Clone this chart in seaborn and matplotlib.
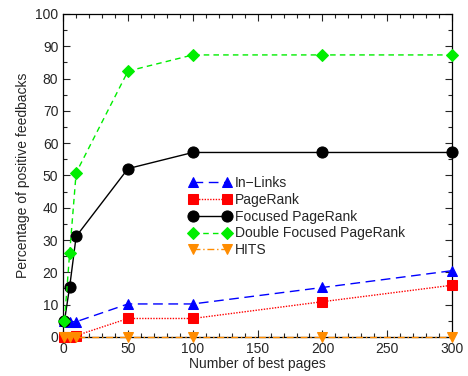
import matplotlib
matplotlib.use("Agg")
import matplotlib.pyplot as plt
import seaborn as sns
import pandas as pd
from matplotlib.ticker import MultipleLocator

x_pages = [1, 5, 10, 50, 100, 200, 300]
in_links = [5, 4.7, 4.7, 10.2, 10.2, 15.3, 20.5]
pagerank = [0, 0, 0.4, 5.7, 5.7, 10.9, 16.0]
focused_pr = [5, 15.5, 31.1, 52.1, 57.1, 57.1, 57.1]
double_focused_pr = [5, 26, 50.8, 82.3, 87.3, 87.3, 87.3]
hits = [0, 0, 0, 0, 0, 0, 0]

series_names = ["In\u2212Links", "PageRank", "Focused PageRank", "Double Focused PageRank", "HITS"]
series_values = [in_links, pagerank, focused_pr, double_focused_pr, hits]

styles = [
    dict(color="#0000ff", marker="^", linestyle=(0, (7, 4)), lw=1.0, ms=7.5),
    dict(color="#ff0000", marker="s", linestyle=(0, (1, 1)), lw=1.0, ms=6.5),
    dict(color="#000000", marker="o", linestyle="-", lw=1.0, ms=8),
    dict(color="#00ee00", marker="D", linestyle=(0, (4, 3)), lw=1.0, ms=6),
    dict(color="#ff8c00", marker="v", linestyle=(0, (5, 2, 1, 2)), lw=1.0, ms=7.5),
]

sns.set_style("ticks")
plt.rcParams['font.family'] = ['Liberation Sans', 'DejaVu Sans']

fig, ax = plt.subplots(figsize=(4.68, 3.76), dpi=100)
fig.subplots_adjust(left=0.135, right=0.966, top=0.963, bottom=0.104)

for name, vals, st in zip(series_names, series_values, styles):
    df = pd.DataFrame({"x": x_pages, "y": vals})
    sns.lineplot(data=df, x="x", y="y", ax=ax, label=name,
                 color=st["color"], marker=st["marker"], linestyle=st["linestyle"],
                 linewidth=st["lw"], markersize=st["ms"], markeredgecolor=st["color"],
                 clip_on=False, zorder=3)

ax.set_xlim(0, 300)
ax.set_ylim(0, 100)
ax.xaxis.set_major_locator(MultipleLocator(50))
ax.xaxis.set_minor_locator(MultipleLocator(10))
ax.yaxis.set_major_locator(MultipleLocator(10))
ax.yaxis.set_minor_locator(MultipleLocator(5))
ax.tick_params(which="both", direction="in", top=True, right=True, labelsize=10, width=0.8)
ax.tick_params(which="major", length=5)
ax.tick_params(which="minor", length=3)
for sp in ax.spines.values():
    sp.set_visible(True)
    sp.set_linewidth(0.9)
    sp.set_color("black")
ax.set_xlabel("Number of best pages", fontsize=10, labelpad=1)
ax.set_ylabel("Percentage of positive feedbacks", fontsize=10, labelpad=4)

leg = ax.legend(loc="upper left", bbox_to_anchor=(0.31, 0.515), frameon=False,
                fontsize=10, handlelength=3.0, handletextpad=0.3, numpoints=2,
                labelspacing=0.2, borderaxespad=0)

fig.savefig("out.png", dpi=100)
